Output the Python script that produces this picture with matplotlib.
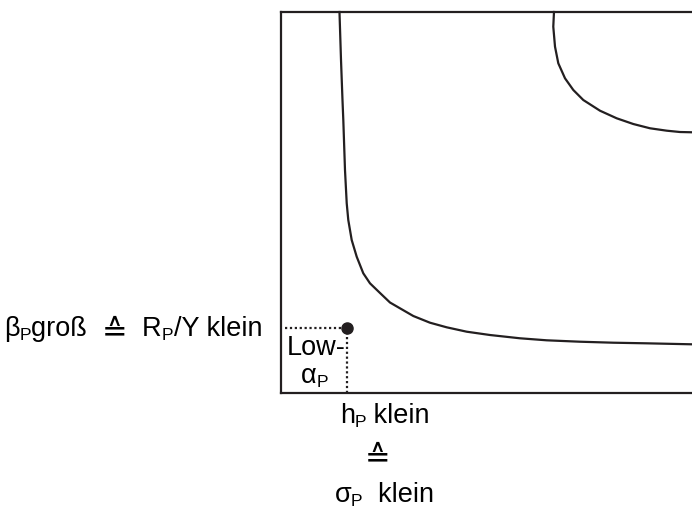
import matplotlib
matplotlib.use("Agg")
import matplotlib.pyplot as plt
from matplotlib.transforms import IdentityTransform

plt.rcParams['font.family'] = ['Liberation Sans', 'DejaVu Sans']

# curve data (axis units 0..100)
curve1_x = [14.23, 14.60, 14.96, 15.16, 15.57, 15.99, 16.37, 17.20, 18.42, 20.02, 21.65, 24.09,
            26.52, 28.95, 32.19, 36.25, 40.32, 45.18, 50.85, 58.15, 64.65, 72.75, 80.85, 88.98, 100]
curve1_y = [100, 87.40, 76.90, 71.65, 58.53, 49.79, 45.41, 40.16, 35.77, 31.42, 28.79, 26.25,
            23.75, 22.23, 20.21, 18.45, 17.24, 16.09, 15.22, 14.36, 13.83, 13.46, 13.20, 13.04, 12.78]
curve2_x = [66.42, 66.25, 66.67, 67.47, 69.10, 71.12, 73.55, 77.62, 81.68, 85.72, 89.78, 93.84, 97.08, 100]
curve2_y = [100, 96.14, 90.89, 86.54, 82.60, 79.53, 76.90, 74.09, 72.10, 70.60, 69.48, 68.85, 68.50, 68.43]
point_x, point_y = 16.1, 17.0

W, H = 692, 508
fig = plt.figure(figsize=(W/100, H/100), dpi=100)
ax = fig.add_axes([281/W, 1-393/H, (692-281)/W, (393-12)/H])
ax.set_xlim(0, 100)
ax.set_ylim(0, 100)
ax.set_xticks([]); ax.set_yticks([])
ax.spines['right'].set_visible(False)
lc = '#231f20'
for s in ['left', 'top', 'bottom']:
    ax.spines[s].set_linewidth(1.6)
    ax.spines[s].set_color(lc)

ax.plot(curve1_x, curve1_y, color=lc, lw=1.6, solid_joinstyle='round', clip_on=False)
ax.plot(curve2_x, curve2_y, color=lc, lw=1.6, solid_joinstyle='round', clip_on=False)
ax.plot([1, point_x], [point_y, point_y], color=lc, lw=1.6, ls=(0, (1, 1.2)))
ax.plot([point_x, point_x], [0, point_y], color=lc, lw=1.6, ls=(0, (1, 1.2)))
ax.plot([point_x], [point_y], 'o', color=lc, ms=8)

FS = 19.5
SUB = 12.5
EQ = 22
renderer = fig.canvas.get_renderer()


def place(pieces, x_px, y_base_px, align='left'):
    """pieces: list of (text, size, dy_px_down, family). y measured from top."""
    texts = []
    x = 0.0
    for txt, size, dy, fam in pieces:
        t = fig.text(0, 0, txt, fontsize=size, ha='left', va='baseline',
                     family=fam, transform=IdentityTransform(), color='black')
        w = t.get_window_extent(renderer).width
        texts.append((t, x, dy))
        x += w
    total = x
    if align == 'right':
        x0 = x_px - total
    elif align == 'center':
        x0 = x_px - total / 2
    else:
        x0 = x_px
    for t, xo, dy in texts:
        t.set_position((x0 + xo, H - y_base_px - dy))


LS = ['Liberation Sans', 'DejaVu Sans']
DJ = ['DejaVu Sans']
place([('β', FS, 0, LS), ('P', SUB, 4, LS), ('groß  ', FS, 0, LS), ('≙', EQ, 4, DJ),
       ('  R', FS, 0, LS), ('P', SUB, 4, LS), ('/Y klein', FS, 0, LS)], 262, 336, 'right')
place([('Low-', FS, 0, LS)], 287, 355, 'left')
place([('α', FS, 0, LS), ('P', SUB, 4, LS)], 315, 383, 'center')
place([('h', FS, 0, LS), ('P', SUB, 4, LS), (' klein', FS, 0, LS)], 385, 423, 'center')
place([('≙', EQ, 0, DJ)], 377, 466, 'center')
place([('σ', FS, 0, LS), ('P', SUB, 4, LS), ('  klein', FS, 0, LS)], 384, 502, 'center')

fig.savefig('out.png', dpi=100)
